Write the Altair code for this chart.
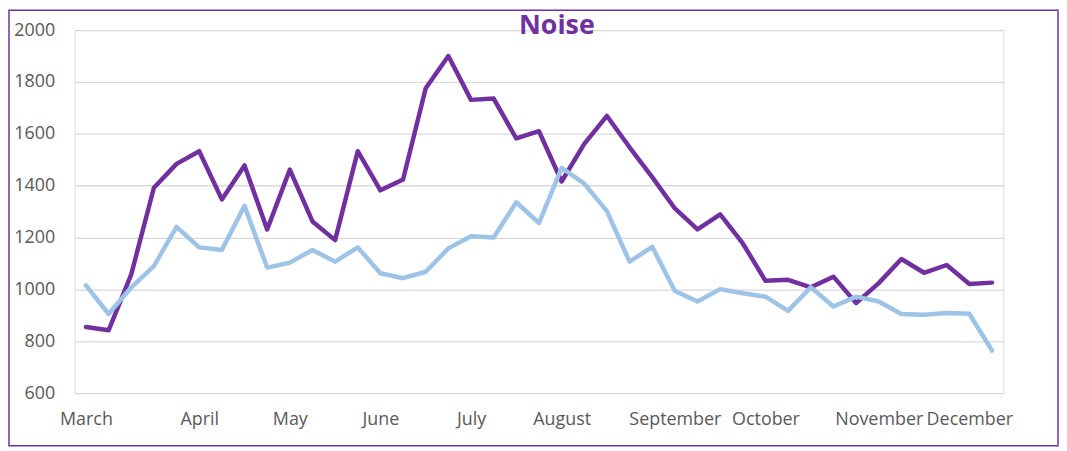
import altair as alt
import pandas as pd

weeks = list(range(41))
series_purple = [855, 842, 1058, 1392, 1484, 1533, 1347, 1478, 1231, 1462,
                 1262, 1190, 1533, 1382, 1424, 1776, 1900, 1731, 1736, 1582,
                 1610, 1416, 1561, 1669, 1548, 1433, 1312, 1231, 1289, 1177,
                 1033, 1037, 1008, 1049, 947, 1024, 1117, 1064, 1094, 1021, 1026]
series_blue = [1015, 905, 1008, 1090, 1241, 1162, 1152, 1322, 1084, 1103,
               1152, 1107, 1162, 1062, 1043, 1068, 1158, 1205, 1200, 1336,
               1256, 1469, 1408, 1302, 1107, 1164, 994, 953, 1001, 985,
               972, 917, 1008, 934, 972, 953, 905, 902, 909, 906, 764]
month_weeks = [0, 5, 9, 13, 17, 21, 26, 30, 35, 39]
month_names = ["March", "April", "May", "June", "July", "August",
               "September", "October", "November", "December"]
y_ticks = [600, 800, 1000, 1200, 1400, 1600, 1800, 2000]
title_text = "Noise"

df = pd.DataFrame({"week": weeks, "purple": series_purple, "blue": series_blue})

label_map = ", ".join(f"'{w}': '{n}'" for w, n in zip(month_weeks, month_names))
label_expr = f"({{{label_map}}})[datum.value + ''] || ''"

FONT = "Open Sans"
PURPLE = "#7030A0"
BLUE = "#9DC3E6"
GREY = "#595959"

x_enc = alt.X(
    "week:O",
    scale=alt.Scale(type="point", padding=0.5),
    axis=alt.Axis(
        values=month_weeks, labelExpr=label_expr, title=None, labelAngle=0,
        domain=False, ticks=False, grid=False, labelOverlap=False,
        labelBound=False, labelFont=FONT, labelFontSize=18, labelColor=GREY,
        labelPadding=18,
    ),
)
y_axis = alt.Axis(
    values=y_ticks, format="d", title=None, domain=False, ticks=False, grid=True,
    gridColor="#D9D9D9", gridWidth=1.3, labelFont=FONT, labelFontSize=18,
    labelColor=GREY, labelPadding=20,
)
y_scale = alt.Scale(domain=[600, 2000], nice=False, zero=False)

base = alt.Chart(df)
line_purple = base.mark_line(color=PURPLE, strokeWidth=4.5, strokeJoin="round", strokeCap="round").encode(
    x=x_enc, y=alt.Y("purple:Q", scale=y_scale, axis=y_axis)
)
line_blue = base.mark_line(color=BLUE, strokeWidth=4.5, strokeJoin="round", strokeCap="round").encode(
    x=x_enc, y=alt.Y("blue:Q", scale=y_scale, axis=y_axis)
)

one = alt.Data(values=[{"t": title_text}])
title = alt.Chart(one).mark_text(
    font=FONT, fontSize=27, fontWeight="bold", color=PURPLE,
    align="center", baseline="alphabetic",
).encode(text="t:N", x=alt.value(485), y=alt.value(3.5))

frame = alt.Chart(one).mark_rect(filled=False, stroke=PURPLE, strokeWidth=1.5).encode(
    x=alt.value(-66), x2=alt.value(989), y=alt.value(-20), y2=alt.value(418)
)

chart = alt.layer(line_purple, line_blue, title, frame).properties(
    width=934, height=365,
    autosize=alt.AutoSizeParams(type="none"),
    padding={"left": 67, "top": 21, "right": 56, "bottom": 54},
).configure_view(stroke=None).configure(background="white")

chart.save("out.html", embed_options={"renderer": "svg", "actions": False})
